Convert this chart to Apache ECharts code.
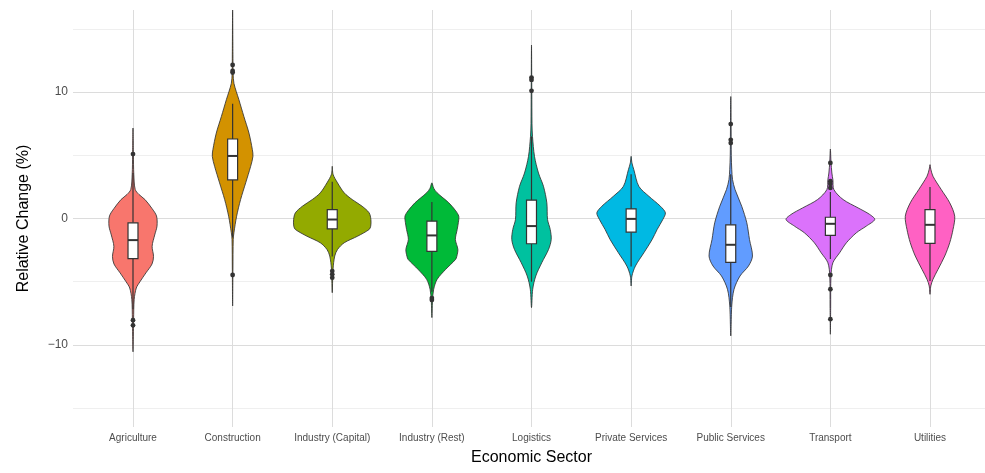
<!DOCTYPE html>
<html>
<head>
<meta charset="utf-8">
<script src="https://cdn.jsdelivr.net/npm/echarts@6/dist/echarts.min.js"></script>
<style>
html,body{margin:0;padding:0;background:#fff;}
#chart{width:985px;height:473px;}
</style>
</head>
<body>
<div id="chart"></div>
<script>
// ---------- DATA ----------
const categories = ['Agriculture','Construction','Industry (Capital)','Industry (Rest)','Logistics','Private Services','Public Services','Transport','Utilities'];
const yTickLabels = [-10, 0, 10];
const fillColors = ['#F8766D','#D39200','#93AA00','#00BA38','#00C19F','#00B9E3','#619CFF','#DB72FB','#FF61C3'];

// violin profiles: [value, half-width as fraction of one category slot]
const violinAgriculture = [[7.16,0],[5.0,0.004],[3.5,0.008],[2.3,0.022],[1.9,0.06],[1.5,0.12],[0.8,0.19],[0.2,0.236],[-0.6,0.241],[-1.3,0.218],[-2.2,0.192],[-3.0,0.206],[-3.6,0.191],[-4.3,0.13],[-5.0,0.07],[-5.5,0.033],[-6.4,0.012],[-8.0,0.006],[-10.55,0]];
const violinConstruction = [[16.5,0],[13.0,0.003],[11.5,0.005],[10.7,0.013],[9.4,0.063],[8.07,0.113],[6.76,0.164],[5.45,0.198],[4.92,0.204],[4.13,0.181],[2.82,0.131],[1.5,0.08],[0.18,0.04],[-1.13,0.013],[-1.66,0.006],[-4.0,0.003],[-6.92,0]];
const violinIndustryCapital = [[4.13,0],[3.5,0.008],[2.82,0.053],[2.03,0.12],[1.5,0.2],[0.97,0.3],[0.45,0.37],[-0.08,0.388],[-0.61,0.386],[-0.87,0.37],[-1.4,0.254],[-1.92,0.12],[-2.45,0.053],[-2.97,0.025],[-4.0,0.008],[-5.87,0]];
const violinIndustryRest = [[2.82,0],[2.4,0.018],[2.03,0.053],[1.24,0.17],[0.6,0.24],[0.18,0.27],[-0.3,0.266],[-0.87,0.254],[-1.66,0.236],[-2.45,0.261],[-3.0,0.25],[-3.24,0.238],[-4.03,0.138],[-4.81,0.053],[-5.6,0.018],[-6.5,0.006],[-7.84,0]];
const violinLogistics = [[13.73,0],[10.0,0.003],[7.5,0.005],[6.5,0.01],[4.92,0.03],[3.6,0.07],[2.55,0.12],[1.24,0.154],[-0.08,0.161],[-0.87,0.188],[-1.66,0.198],[-2.45,0.171],[-3.5,0.103],[-4.55,0.043],[-5.6,0.012],[-7.05,0]];
const violinPrivateServices = [[4.92,0],[4.4,0.008],[3.87,0.027],[2.55,0.077],[1.76,0.178],[0.97,0.294],[0.45,0.344],[-0.08,0.318],[-0.87,0.261],[-1.66,0.211],[-2.71,0.128],[-3.76,0.043],[-4.55,0.008],[-5.34,0]];
const violinPublicServices = [[9.65,0],[7.0,0.003],[5.0,0.005],[3.9,0.01],[3.08,0.018],[2.29,0.043],[0.97,0.11],[-0.34,0.161],[-1.66,0.188],[-2.97,0.218],[-3.76,0.178],[-4.55,0.093],[-5.6,0.033],[-6.92,0.01],[-9.29,0]];
const violinTransport = [[5.5,0],[4.5,0.006],[3.6,0.015],[3.08,0.025],[2.29,0.035],[1.5,0.128],[0.84,0.278],[0.32,0.395],[-0.08,0.445],[-0.6,0.361],[-1.13,0.261],[-1.92,0.161],[-2.71,0.093],[-3.5,0.025],[-4.55,0.006],[-7.0,0.003],[-9.16,0]];
const violinUtilities = [[4.26,0],[3.9,0.008],[3.34,0.03],[2.29,0.113],[1.24,0.198],[0.18,0.248],[-0.87,0.231],[-1.92,0.198],[-2.97,0.148],[-4.03,0.08],[-4.81,0.03],[-5.34,0.008],[-6.0,0]];
const violinProfiles = [violinAgriculture, violinConstruction, violinIndustryCapital, violinIndustryRest, violinLogistics, violinPrivateServices, violinPublicServices, violinTransport, violinUtilities];

// box stats: [lower whisker, Q1, median, Q3, upper whisker]
const boxStats = [
  [-7.2, -3.18, -1.71, -0.34, 3.6],
  [-1.5, 3.05, 4.95, 6.29, 9.08],
  [-3.0, -0.82, -0.08, 0.71, 2.9],
  [-5.8, -2.6, -1.34, -0.21, 1.3],
  [-5.0, -2.0, -0.6, 1.45, 6.5],
  [-3.8, -1.08, -0.03, 0.76, 3.5],
  [-7.0, -3.47, -2.08, -0.5, 3.5],
  [-3.2, -1.34, -0.42, 0.1, 2.1],
  [-4.95, -1.97, -0.5, 0.71, 2.5]
];
const outliers = [
  [5.1, -8.05, -8.45],
  [12.15, 11.68, 11.55, -4.47],
  [-4.16, -4.42, -4.68],
  [-6.3, -6.45],
  [11.15, 10.97, 10.1],
  [],
  [7.47, 6.23, 5.97],
  [4.4, 2.95, 2.74, 2.42, -4.47, -5.6, -7.97],
  []
];

// ---------- CHART ----------
const chart = echarts.init(document.getElementById('chart'));
const FONT = 'Liberation Sans, Arial, Helvetica, sans-serif';
const INK = '#333333';

function renderItem(params, api) {
  const i = params.dataIndex;
  const unit = api.size([1, 0])[0];
  const prof = violinProfiles[i];
  const pts = [];
  prof.forEach(([v, d]) => { const p = api.coord([i, v]); pts.push([p[0] + d * unit, p[1]]); });
  prof.slice(1, -1).reverse().forEach(([v, d]) => { const p = api.coord([i, v]); pts.push([p[0] - d * unit, p[1]]); });
  const children = [];
  children.push({
    type: 'polygon',
    shape: { points: pts, smooth: 0.3 },
    style: { fill: fillColors[i], stroke: INK, lineWidth: 0.85 }
  });
  const [lo, q1, med, q3, hi] = boxStats[i];
  const cx = api.coord([i, 0])[0];
  const hb = 0.05 * unit;
  const yLo = api.coord([i, lo])[1], yQ1 = api.coord([i, q1])[1], yMed = api.coord([i, med])[1], yQ3 = api.coord([i, q3])[1], yHi = api.coord([i, hi])[1];
  children.push({ type: 'line', shape: { x1: cx, y1: yQ3, x2: cx, y2: yHi }, style: { stroke: INK, lineWidth: 1.2 } });
  children.push({ type: 'line', shape: { x1: cx, y1: yQ1, x2: cx, y2: yLo }, style: { stroke: INK, lineWidth: 1.2 } });
  children.push({ type: 'rect', shape: { x: cx - hb, y: yQ3, width: 2 * hb, height: yQ1 - yQ3 }, style: { fill: '#ffffff', stroke: INK, lineWidth: 1.2 } });
  children.push({ type: 'line', shape: { x1: cx - hb, y1: yMed, x2: cx + hb, y2: yMed }, style: { stroke: INK, lineWidth: 2 } });
  outliers[i].forEach(v => {
    const p = api.coord([i, v]);
    children.push({ type: 'circle', shape: { cx: p[0], cy: p[1], r: 2.4 }, style: { fill: INK } });
  });
  return { type: 'group', children };
}

chart.setOption({
  animation: false,
  textStyle: { fontFamily: FONT },
  grid: [
    { left: 73, right: 0, top: 29, bottom: 65 },
    { left: 133, right: 55, top: 10, bottom: 46 }
  ],
  xAxis: [
    { gridIndex: 0, type: 'value', min: 0, max: 1, show: false },
    {
      gridIndex: 1, type: 'value', min: 0, max: categories.length - 1, interval: 1,
      axisLine: { show: false }, axisTick: { show: false },
      splitLine: { show: true, lineStyle: { color: '#dcdcdc', width: 1 } },
      axisLabel: { formatter: v => categories[v] || '', fontSize: 10, color: '#4d4d4d', margin: 6, fontFamily: FONT },
      name: 'Economic Sector', nameLocation: 'middle', nameGap: 23,
      nameTextStyle: { fontSize: 16, color: '#000', fontFamily: FONT }
    }
  ],
  yAxis: [
    {
      gridIndex: 0, type: 'value', min: -15, max: 15, interval: 5,
      axisLine: { show: false }, axisTick: { show: false },
      splitLine: { show: true, lineStyle: { color: ['#efefef', '#dcdcdc'], width: 1 } },
      axisLabel: {
        formatter: v => yTickLabels.includes(v) ? String(v).replace('-', '\u2212') : '',
        fontSize: 12, color: '#4d4d4d', margin: 5, fontFamily: FONT
      },
      name: 'Relative Change (%)', nameLocation: 'middle', nameGap: 41,
      nameTextStyle: { fontSize: 16, color: '#000', fontFamily: FONT }
    },
    { gridIndex: 1, type: 'value', min: -16.5, max: 16.5, show: false }
  ],
  series: [{
    type: 'custom',
    xAxisIndex: 1, yAxisIndex: 1,
    clip: false,
    renderItem: renderItem,
    data: categories.map((c, i) => [i, boxStats[i][2]])
  }]
});
</script>
</body>
</html>
